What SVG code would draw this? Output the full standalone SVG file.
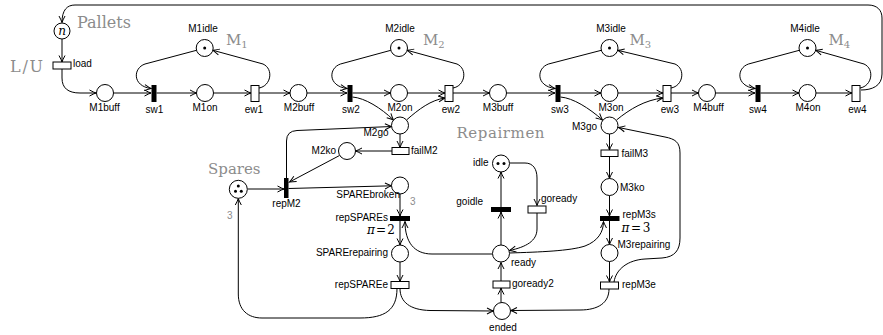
<svg xmlns="http://www.w3.org/2000/svg" width="883" height="335" viewBox="0 0 883 335">
<defs>
<marker id="ah" markerUnits="userSpaceOnUse" markerWidth="10" markerHeight="10" viewBox="-8 -5 10 10" refX="0" refY="0" orient="auto" overflow="visible">
<path d="M-6.5,-3 Q-2,-0.6 0,0 Q-2,0.6 -6.5,3" fill="none" stroke="#000" stroke-width="1"/>
</marker>
</defs>
<style>
.pl{fill:#fff;stroke:#000;stroke-width:1}
.tw{fill:#fff;stroke:#000;stroke-width:1}
.tb{fill:#000}
.tk{fill:#000}
.lb{font-family:"Liberation Sans",Arial,sans-serif;font-size:10px;fill:#000}
.c{text-anchor:middle}
.e{text-anchor:end}
.gr{font-family:"DejaVu Serif","Liberation Serif",serif;fill:#8c8c8c}
.mt{font-family:"DejaVu Serif","Liberation Serif",serif;font-size:12px;fill:#000}
.arc path{fill:none;stroke:#000;stroke-width:1;marker-end:url(#ah)}
</style>
<rect width="883" height="335" fill="#fff"/>

<g id="connectors" class="arc">
<path d="M861 90 C872 90 882 86 882 74 L882 18 C882 10 877 5 868 5 L75 5 C67 5 62 10 62 22.5"/>
<path d="M62 39 L62 62"/>
<path d="M62 69 L62 78 C62 88 68 93 80 93 L96 93"/>
<path d="M113.5 93 L151 93"/>
<path d="M156.5 93 L196.5 93"/>
<path d="M213.5 93 L251 93"/>
<path d="M259 93 L290 93"/>
<path d="M307 93 L347 93"/>
<path d="M352.5 93 L390.5 93"/>
<path d="M407.5 93 L445 93"/>
<path d="M453 93 L489.5 93"/>
<path d="M506.5 93 L555 93"/>
<path d="M560.5 93 L601 93"/>
<path d="M618 93 L663 93"/>
<path d="M671 93 L698.5 93"/>
<path d="M715.5 93 L755 93"/>
<path d="M760.5 93 L799 93"/>
<path d="M816 93 L852 93"/>
<path d="M196.5 50.3 L145 64 C133 68 132 86 151 88.5"/>
<path d="M259 88 C271 86 274 69 263 64 L212.9 50.3"/>
<path d="M390.8 50.3 L340.5 64 C328.5 68 327.5 86 347 88.5"/>
<path d="M453 88 C465 86 468 69 457 64 L407.2 50.3"/>
<path d="M601.3 50.3 L548.5 64 C536.5 68 535.5 86 555 88.5"/>
<path d="M671 88 C683 86 686 69 675 64 L617.7 50.3"/>
<path d="M799.3 50.3 L748.5 64 C736.5 68 735.5 86 755 88.5"/>
<path d="M860 88 C872 86 875 69 864 64 L815.7 50.3"/>
<path d="M352.5 97 C365 98 381 108 393.5 120"/>
<path d="M406.5 120 C419 109 431 100 445 98"/>
<path d="M400 134 L400 147.5"/>
<path d="M392 151 L355.5 151"/>
<path d="M339.5 155.5 L289.5 182"/>
<path d="M286.5 178 L286.5 141 Q286.5 131 297 130.5 L391.5 126.5"/>
<path d="M247.5 189 L284 189"/>
<path d="M288.5 188.5 L391.5 185.8"/>
<path d="M400 194 L400 216"/>
<path d="M400 221 L400 245"/>
<path d="M400 262 L400 281.5"/>
<path d="M397 288.5 C397 310 385 318 360 318 L262 318 C248 318 238.3 310 238.3 294 L238.3 198.5"/>
<path d="M400 288.5 C400 302 410 310 430 310.5 L493.5 311"/>
<path d="M609 289 C609 303 598 310 580 310 L510.5 310.5"/>
<path d="M501 302.5 L501 288"/>
<path d="M501 281 L501 262.5"/>
<path d="M501 245 L501 212"/>
<path d="M501 207 L501 172"/>
<path d="M509.5 163 L525 163 C533 163 537 169 537 178 L537 205.5"/>
<path d="M537 213 L537 229 C537 241 526 247 509.5 250.5"/>
<path d="M492.5 254 L432 254 C414 254 405 242 405 221.5"/>
<path d="M509.5 253 C540 252 570 251 585 246 C598 241 603.5 232 603.5 221.5"/>
<path d="M560.5 97 C573 98 589 108 602.5 120"/>
<path d="M616.5 120 C630 109 645 100 663 98"/>
<path d="M609.5 134 L609.5 150"/>
<path d="M609.5 156.5 L609.5 178.5"/>
<path d="M609.5 195.5 L609.5 216"/>
<path d="M609.5 221 L609.5 244.5"/>
<path d="M609.5 261.5 L609.5 282"/>
<path d="M614 282 C616 269 628 260 645 259 L662 258 C675 257 680 250 680 238 L680 153 C680 142 675 139 665 137 L618.5 127.5"/>
</g>

<g id="Pallets"><circle class="pl" cx="62" cy="31" r="8"/><text x="62" y="34.5" class="c" font-family="DejaVu Serif,serif" font-style="italic" font-size="12">n</text><text class="gr" x="77" y="28" font-size="16">Pallets</text></g>
<g id="LU"><text class="gr" x="10" y="72" font-size="16" textLength="33">L/U</text></g>
<g id="load"><rect class="tw" x="53" y="62" width="18" height="7"/><text class="lb" x="73" y="67">load</text></g>

<g id="M1buff"><circle class="pl" cx="105" cy="93" r="8.5"/><text class="lb c" x="104.5" y="111">M1buff</text></g>
<g id="sw1"><rect class="tb" x="151.5" y="85" width="5" height="17"/><text class="lb c" x="154.5" y="113">sw1</text></g>
<g id="M1on"><circle class="pl" cx="205" cy="93" r="8.5"/><text class="lb c" x="205" y="111">M1on</text></g>
<g id="ew1"><rect class="tw" x="251" y="85.5" width="8" height="16"/><text class="lb c" x="254" y="113">ew1</text></g>
<g id="M1idle"><circle class="pl" cx="204.7" cy="48" r="8.5"/><circle class="tk" cx="204.7" cy="48" r="1.5"/><text class="lb c" x="203" y="32">M1idle</text><text class="gr" x="226" y="45" font-size="15">M<tspan font-size="10" dy="2.5">1</tspan></text></g>

<g id="M2buff"><circle class="pl" cx="298.5" cy="93" r="8.5"/><text class="lb c" x="299" y="111">M2buff</text></g>
<g id="sw2"><rect class="tb" x="347.5" y="85" width="5" height="17"/><text class="lb c" x="351" y="113">sw2</text></g>
<g id="M2on"><circle class="pl" cx="399" cy="93" r="8.5"/><text class="lb c" x="400" y="111">M2on</text></g>
<g id="ew2"><rect class="tw" x="445" y="85.5" width="8" height="16"/><text class="lb c" x="451" y="113">ew2</text></g>
<g id="M2idle"><circle class="pl" cx="399" cy="48" r="8.5"/><circle class="tk" cx="399" cy="48" r="1.5"/><text class="lb c" x="400" y="32">M2idle</text><text class="gr" x="423" y="45" font-size="15">M<tspan font-size="10" dy="2.5">2</tspan></text></g>

<g id="M3buff"><circle class="pl" cx="498" cy="93" r="8.5"/><text class="lb c" x="498" y="111">M3buff</text></g>
<g id="sw3"><rect class="tb" x="555.5" y="85" width="5" height="17"/><text class="lb c" x="560" y="113">sw3</text></g>
<g id="M3on"><circle class="pl" cx="609.5" cy="93" r="8.5"/><text class="lb c" x="611" y="111">M3on</text></g>
<g id="ew3"><rect class="tw" x="663" y="85.5" width="8" height="16"/><text class="lb c" x="670" y="113">ew3</text></g>
<g id="M3idle"><circle class="pl" cx="609.5" cy="48" r="8.5"/><circle class="tk" cx="609.5" cy="48" r="1.5"/><text class="lb c" x="611" y="32">M3idle</text><text class="gr" x="629.5" y="45" font-size="15">M<tspan font-size="10" dy="2.5">3</tspan></text></g>

<g id="M4buff"><circle class="pl" cx="707" cy="93" r="8.5"/><text class="lb c" x="708.5" y="111">M4buff</text></g>
<g id="sw4"><rect class="tb" x="755.5" y="85" width="5" height="17"/><text class="lb c" x="758" y="113">sw4</text></g>
<g id="M4on"><circle class="pl" cx="807.5" cy="93" r="8.5"/><text class="lb c" x="808" y="111">M4on</text></g>
<g id="ew4"><rect class="tw" x="852" y="85.5" width="8" height="16"/><text class="lb c" x="857.5" y="113">ew4</text></g>
<g id="M4idle"><circle class="pl" cx="807.5" cy="48" r="8.5"/><circle class="tk" cx="807.5" cy="48" r="1.5"/><text class="lb c" x="805" y="32">M4idle</text><text class="gr" x="828.5" y="45" font-size="15">M<tspan font-size="10" dy="2.5">4</tspan></text></g>

<g id="M2go"><circle class="pl" cx="400" cy="125.5" r="8.5"/><text class="lb e" x="388.5" y="136">M2go</text></g>
<g id="failM2"><rect class="tw" x="392" y="147.5" width="17" height="7"/><text class="lb" x="411" y="154">failM2</text></g>
<g id="M2ko"><circle class="pl" cx="347" cy="151" r="8.5"/><text class="lb e" x="336" y="154">M2ko</text></g>
<g id="repM2"><rect class="tb" x="284" y="178" width="4.5" height="20"/><text class="lb c" x="286.5" y="207">repM2</text></g>
<g id="Spares"><circle class="pl" cx="238.3" cy="189.3" r="9"/><circle class="tk" cx="238.3" cy="186" r="1.5"/><circle class="tk" cx="235.5" cy="191.2" r="1.5"/><circle class="tk" cx="241.3" cy="191.2" r="1.5"/><text class="gr" x="208" y="174" font-size="15">Spares</text><text class="lb" x="227" y="219" style="fill:#8c8c8c">3</text></g>
<g id="SPAREbroken"><circle class="pl" cx="400" cy="185.5" r="8.5"/><text class="lb e" x="400" y="197.5">SPAREbroken</text><text class="lb" x="410" y="205" style="fill:#8c8c8c">3</text></g>
<g id="repSPAREs"><rect class="tb" x="390" y="216" width="20" height="5"/><text class="lb e" x="388" y="221">repSPAREs</text><text class="mt" x="367" y="233.5" textLength="28"><tspan font-style="italic">π</tspan> = 2</text></g>
<g id="SPARErepairing"><circle class="pl" cx="400" cy="253.5" r="8.5"/><text class="lb e" x="388" y="256">SPARErepairing</text></g>
<g id="repSPAREe"><rect class="tw" x="391" y="281.5" width="18" height="7"/><text class="lb e" x="388" y="288">repSPAREe</text></g>

<g id="Repairmen"><text class="gr" x="456.5" y="138" font-size="15" textLength="88">Repairmen</text></g>
<g id="idle"><circle class="pl" cx="501" cy="163.5" r="8.5"/><circle class="tk" cx="498" cy="163.5" r="1.5"/><circle class="tk" cx="504" cy="163.5" r="1.5"/><text class="lb e" x="488.5" y="166">idle</text></g>
<g id="goidle"><rect class="tb" x="491" y="207" width="20" height="5"/><text class="lb e" x="483" y="205">goidle</text></g>
<g id="goready"><rect class="tw" x="528" y="206" width="18" height="7"/><text class="lb" x="541" y="202">goready</text></g>
<g id="ready"><circle class="pl" cx="501" cy="253.5" r="8.5"/><text class="lb" x="511" y="266">ready</text></g>
<g id="goready2"><rect class="tw" x="493" y="281" width="17" height="7"/><text class="lb" x="512" y="287">goready2</text></g>
<g id="ended"><circle class="pl" cx="502" cy="311" r="8.5"/><text class="lb c" x="503" y="331">ended</text></g>

<g id="M3go"><circle class="pl" cx="609.5" cy="125.5" r="8.5"/><text class="lb e" x="597" y="129.5">M3go</text></g>
<g id="failM3"><rect class="tw" x="601" y="150" width="17" height="6.5"/><text class="lb" x="621.5" y="156.5">failM3</text></g>
<g id="M3ko"><circle class="pl" cx="609.5" cy="187" r="8.5"/><text class="lb" x="620" y="191">M3ko</text></g>
<g id="repM3s"><rect class="tb" x="600" y="216" width="19.5" height="5"/><text class="lb" x="622.5" y="218">repM3s</text><text class="mt" x="621.5" y="231.5" textLength="29"><tspan font-style="italic">π</tspan> = 3</text></g>
<g id="M3repairing"><circle class="pl" cx="609.5" cy="253" r="8.5"/><text class="lb" x="617.5" y="248">M3repairing</text></g>
<g id="repM3e"><rect class="tw" x="600.5" y="282" width="18" height="7"/><text class="lb" x="622" y="288">repM3e</text></g>
</svg>
